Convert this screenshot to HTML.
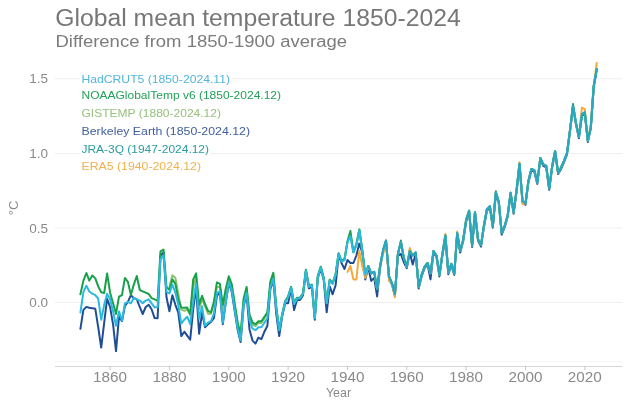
<!DOCTYPE html>
<html><head><meta charset="utf-8"><style>
html,body{margin:0;padding:0;background:#fff;width:627px;height:412px;overflow:hidden}
svg{display:block;font-family:"Liberation Sans",sans-serif;will-change:transform}
.g{stroke:#efefef;stroke-width:1}
.tk{stroke:#c8c8c8;stroke-width:1}
.yl{font-size:13.5px;fill:#8a8a8a;text-anchor:end}
.xl{font-size:14px;fill:#8a8a8a;text-anchor:middle}
.lg{font-size:11.4px;stroke:#fff;stroke-width:5px;stroke-linejoin:round;paint-order:stroke}
.dl path{fill:none;stroke-width:2;stroke-linejoin:round;stroke-linecap:round}
</style></head><body>
<svg width="627" height="412" viewBox="0 0 627 412">
<text x="55.2" y="26.3" textLength="405.5" lengthAdjust="spacingAndGlyphs" style="font-size:23px;fill:#777777">Global mean temperature 1850-2024</text>
<text x="55.5" y="47.3" textLength="291.5" lengthAdjust="spacingAndGlyphs" style="font-size:15.8px;fill:#7c7c7c">Difference from 1850-1900 average</text>
<line x1="55" x2="622" y1="78.8" y2="78.8" class="g"/><line x1="55" x2="622" y1="153.5" y2="153.5" class="g"/><line x1="55" x2="622" y1="228.0" y2="228.0" class="g"/><line x1="55" x2="622" y1="302.5" y2="302.5" class="g"/>
<line x1="55" x2="622" y1="361.5" y2="361.5" style="stroke:#f5f5f5;stroke-width:1"/>
<line x1="55" x2="622.5" y1="366.5" y2="366.5" style="stroke:#d6d6d6;stroke-width:1"/>
<line x1="110.1" x2="110.1" y1="366" y2="370" class="tk"/><text x="110.1" y="382.3" class="xl" textLength="34" lengthAdjust="spacingAndGlyphs">1860</text><line x1="169.4" x2="169.4" y1="366" y2="370" class="tk"/><text x="169.4" y="382.3" class="xl" textLength="34" lengthAdjust="spacingAndGlyphs">1880</text><line x1="228.8" x2="228.8" y1="366" y2="370" class="tk"/><text x="228.8" y="382.3" class="xl" textLength="34" lengthAdjust="spacingAndGlyphs">1900</text><line x1="288.1" x2="288.1" y1="366" y2="370" class="tk"/><text x="288.1" y="382.3" class="xl" textLength="34" lengthAdjust="spacingAndGlyphs">1920</text><line x1="347.5" x2="347.5" y1="366" y2="370" class="tk"/><text x="347.5" y="382.3" class="xl" textLength="34" lengthAdjust="spacingAndGlyphs">1940</text><line x1="406.8" x2="406.8" y1="366" y2="370" class="tk"/><text x="406.8" y="382.3" class="xl" textLength="34" lengthAdjust="spacingAndGlyphs">1960</text><line x1="466.1" x2="466.1" y1="366" y2="370" class="tk"/><text x="466.1" y="382.3" class="xl" textLength="34" lengthAdjust="spacingAndGlyphs">1980</text><line x1="525.5" x2="525.5" y1="366" y2="370" class="tk"/><text x="525.5" y="382.3" class="xl" textLength="34" lengthAdjust="spacingAndGlyphs">2000</text><line x1="584.8" x2="584.8" y1="366" y2="370" class="tk"/><text x="584.8" y="382.3" class="xl" textLength="34" lengthAdjust="spacingAndGlyphs">2020</text>
<text x="48" y="83.4" class="yl">1.5</text><text x="48" y="158.1" class="yl">1.0</text><text x="48" y="232.8" class="yl">0.5</text><text x="48" y="307.4" class="yl">0.0</text>
<text transform="translate(18.3,208) rotate(-90)" style="font-size:13px;fill:#8a8a8a;text-anchor:middle">°C</text>
<text x="338.5" y="396.8" textLength="25" lengthAdjust="spacingAndGlyphs" style="font-size:13.5px;fill:#8a8a8a;text-anchor:middle">Year</text>
<text x="81.5" y="82.5" fill="#52b6dc" class="lg" textLength="148.5" lengthAdjust="spacingAndGlyphs">HadCRUT5 (1850-2024.11)</text><text x="81.5" y="99.3" fill="#24a058" class="lg" textLength="199.5" lengthAdjust="spacingAndGlyphs">NOAAGlobalTemp v6 (1850-2024.12)</text><text x="81.5" y="117.2" fill="#96c07e" class="lg" textLength="139.5" lengthAdjust="spacingAndGlyphs">GISTEMP (1880-2024.12)</text><text x="81.5" y="134.9" fill="#3f5f9f" class="lg" textLength="168.5" lengthAdjust="spacingAndGlyphs">Berkeley Earth (1850-2024.12)</text><text x="81.5" y="152.5" fill="#2b9c9e" class="lg" textLength="127.5" lengthAdjust="spacingAndGlyphs">JRA-3Q (1947-2024.12)</text><text x="81.5" y="170.1" fill="#f1b14c" class="lg" textLength="119.5" lengthAdjust="spacingAndGlyphs">ERA5 (1940-2024.12)</text>
<g class="dl">
<path d="M80.4,328.8 L83.4,309.9 L86.4,306.9 L89.3,307.8 L92.3,308.2 L95.3,308.8 L98.2,327.2 L101.2,347.6 L104.2,322.7 L107.1,298.8 L110.1,307.0 L113.1,324.6 L116.0,351.1 L119.0,316.7 L122.0,321.2 L124.9,306.0 L127.9,301.9 L130.9,295.1 L133.8,298.1 L136.8,299.3 L139.8,307.0 L142.7,314.0 L145.7,307.0 L148.7,304.8 L151.6,309.3 L154.6,318.1 L157.6,318.2 L160.5,255.5 L163.5,252.5 L166.5,297.3 L169.4,311.2 L172.4,295.2 L175.4,304.8 L178.3,312.7 L181.3,336.1 L184.3,331.7 L187.2,335.7 L190.2,339.6 L193.2,309.3 L196.1,286.9 L199.1,333.8 L202.1,312.7 L205.0,327.2 L208.0,324.2 L211.0,322.0 L213.9,318.2 L216.9,295.8 L219.9,292.2 L222.8,324.2 L225.8,301.8 L228.8,283.7 L231.7,291.5 L234.7,311.1 L237.7,330.2 L240.6,342.1 L243.6,306.3 L246.6,294.3 L249.5,329.4 L252.5,340.6 L255.5,343.6 L258.4,337.6 L261.4,339.1 L264.4,331.7 L267.4,325.7 L270.3,289.3 L273.3,280.2 L276.3,314.3 L279.2,336.1 L282.2,316.4 L285.2,303.3 L288.1,303.3 L291.1,289.1 L294.1,310.0 L297.0,300.0 L300.0,300.0 L303.0,295.5 L305.9,271.9 L308.9,288.4 L311.9,286.9 L314.8,319.7 L317.8,277.9 L320.8,269.0 L323.7,279.9 L326.7,312.3 L329.7,286.4 L332.6,294.3 L335.6,285.4 L338.6,255.5 L341.5,263.0 L344.5,269.0 L347.5,260.0 L350.4,263.0 L353.4,263.0 L356.4,255.5 L359.3,243.6 L362.3,252.5 L365.3,279.4 L368.2,267.5 L371.2,280.9 L374.2,277.9 L377.1,296.4 L380.1,267.5 L383.1,251.6 L386.0,242.1 L389.0,277.9 L392.0,284.8 L394.9,295.8 L397.9,255.5 L400.9,254.0 L403.8,262.2 L406.8,268.1 L409.8,252.5 L412.7,264.5 L415.7,254.0 L418.7,288.4 L421.6,276.4 L424.6,268.1 L427.6,264.5 L430.5,279.4 L433.5,252.5 L436.5,257.0 L439.4,276.4 L442.4,255.5 L445.4,238.3 L448.3,274.2 L451.3,265.4 L454.3,274.9 L457.2,234.6 L460.2,252.5 L463.2,241.2 L466.1,221.8 L469.1,212.2 L472.1,247.0 L475.0,213.7 L478.0,240.6 L481.0,246.6 L483.9,227.2 L486.9,210.7 L489.9,207.7 L492.8,227.7 L495.8,194.3 L498.8,203.3 L501.7,234.6 L504.7,227.2 L507.7,216.7 L510.6,194.3 L513.6,213.7 L516.6,191.3 L519.5,165.2 L522.5,202.5 L525.5,204.8 L528.4,182.4 L531.4,170.4 L534.4,171.9 L537.3,183.9 L540.3,159.5 L543.3,165.9 L546.2,167.4 L549.2,189.8 L552.2,167.4 L555.1,152.5 L558.1,174.1 L561.1,168.9 L564.1,162.2 L567.0,154.7 L570.0,131.6 L573.0,107.3 L575.9,124.1 L578.9,138.2 L581.9,115.9 L584.8,113.7 L587.8,142.0 L590.8,128.6 L593.7,87.6 L596.7,70.4" stroke="#1f4e96" />
<path d="M169.4,286.9 L172.4,275.2 L175.4,277.9 L178.3,294.3 L181.3,309.3 L184.3,310.8 L187.2,309.3 L190.2,315.2 L193.2,286.9 L196.1,276.4 L199.1,309.3 L202.1,298.8 L205.0,306.3 L208.0,313.7 L211.0,313.7 L213.9,303.3 L216.9,286.9 L219.9,286.9 L222.8,309.3 L225.8,292.8 L228.8,278.1 L231.7,285.8 L234.7,305.4 L237.7,324.5 L240.6,336.4 L243.6,300.6 L246.6,288.7 L249.5,316.3 L252.5,324.5 L255.5,326.0 L258.4,323.0 L261.4,323.0 L264.4,318.5 L267.4,314.0 L270.3,283.6 L273.3,274.5 L276.3,307.8 L279.2,329.6 L282.2,314.4 L285.2,301.3 L288.1,296.8 L291.1,287.1 L294.1,303.5 L297.0,298.0 L300.0,298.0 L303.0,293.5 L305.9,269.9 L308.9,286.3 L311.9,284.9 L314.8,317.7 L317.8,275.9 L320.8,266.9 L323.7,277.8 L326.7,302.8 L329.7,279.9 L332.6,283.4 L335.6,274.4 L338.6,253.5 L341.5,261.0 L344.5,259.5 L347.5,241.6 L350.4,235.6 L353.4,252.0 L356.4,244.5 L359.3,229.6 L362.3,250.5 L365.3,274.9 L368.2,266.0 L371.2,273.4 L374.2,271.9 L377.1,289.0 L380.1,266.0 L383.1,250.1 L386.0,240.6 L389.0,276.4 L392.0,283.3 L394.9,294.3 L397.9,254.0 L400.9,242.1 L403.8,257.8 L406.8,266.6 L409.8,251.0 L412.7,255.5 L415.7,252.5 L418.7,286.9 L421.6,274.9 L424.6,266.6 L427.6,263.0 L430.5,273.4 L433.5,251.0 L436.5,255.5 L439.4,274.9 L442.4,254.0 L445.4,235.4 L448.3,272.7 L451.3,263.9 L454.3,273.4 L457.2,233.1 L460.2,251.0 L463.2,239.7 L466.1,220.3 L469.1,210.7 L472.1,245.5 L475.0,212.2 L478.0,239.1 L481.0,245.1 L483.9,225.7 L486.9,209.2 L489.9,206.2 L492.8,226.3 L495.8,192.8 L498.8,201.8 L501.7,233.1 L504.7,225.7 L507.7,215.2 L510.6,192.8 L513.6,212.2 L516.6,189.8 L519.5,163.7 L522.5,201.0 L525.5,203.3 L528.4,180.9 L531.4,168.9 L534.4,170.4 L537.3,182.4 L540.3,158.0 L543.3,164.4 L546.2,165.9 L549.2,188.3 L552.2,165.9 L555.1,151.0 L558.1,172.7 L561.1,167.4 L564.1,160.7 L567.0,153.2 L570.0,130.1 L573.0,105.8 L575.9,122.6 L578.9,136.7 L581.9,114.4 L584.8,112.2 L587.8,140.6 L590.8,127.1 L593.7,86.1 L596.7,68.9" stroke="#8cc06a" />
<path d="M80.4,294.3 L83.4,280.6 L86.4,273.0 L89.3,280.6 L92.3,275.5 L95.3,278.4 L98.2,286.4 L101.2,292.2 L104.2,293.0 L107.1,273.4 L110.1,292.7 L113.1,303.3 L116.0,314.0 L119.0,296.7 L122.0,295.1 L124.9,277.9 L127.9,281.9 L130.9,295.1 L133.8,284.6 L136.8,276.0 L139.8,290.0 L142.7,291.3 L145.7,292.7 L148.7,294.0 L151.6,298.1 L154.6,299.4 L157.6,300.8 L160.5,251.3 L163.5,249.5 L166.5,286.9 L169.4,289.9 L172.4,279.4 L175.4,283.9 L178.3,299.6 L181.3,307.6 L184.3,307.8 L187.2,307.6 L190.2,313.7 L193.2,279.4 L196.1,273.4 L199.1,304.8 L202.1,295.8 L205.0,304.0 L208.0,310.8 L211.0,312.3 L213.9,301.8 L216.9,282.4 L219.9,283.9 L222.8,304.8 L225.8,288.4 L228.8,276.3 L231.7,284.0 L234.7,303.6 L237.7,322.7 L240.6,334.6 L243.6,298.8 L246.6,286.9 L249.5,314.5 L252.5,322.7 L255.5,324.2 L258.4,321.2 L261.4,321.2 L264.4,316.7 L267.4,312.3 L270.3,281.8 L273.3,272.7 L276.3,307.6 L279.2,329.4 L282.2,314.2 L285.2,301.1 L288.1,296.6 L291.1,286.9 L294.1,303.3 L297.0,297.8 L300.0,297.8 L303.0,293.3 L305.9,269.7 L308.9,286.1 L311.9,284.6 L314.8,317.5 L317.8,275.7 L320.8,266.7 L323.7,277.6 L326.7,302.5 L329.7,279.7 L332.6,283.1 L335.6,274.2 L338.6,253.3 L341.5,260.7 L344.5,259.2 L347.5,241.3 L350.4,230.9 L353.4,251.8 L356.4,244.3 L359.3,229.4 L362.3,250.3 L365.3,274.9 L368.2,266.0 L371.2,273.4 L374.2,271.9 L377.1,289.0 L380.1,266.0 L383.1,250.1 L386.0,240.6 L389.0,276.4 L392.0,283.3 L394.9,294.3 L397.9,254.0 L400.9,240.6 L403.8,257.8 L406.8,266.6 L409.8,251.0 L412.7,255.5 L415.7,252.5 L418.7,286.9 L421.6,274.9 L424.6,266.6 L427.6,263.0 L430.5,273.4 L433.5,251.0 L436.5,255.5 L439.4,274.9 L442.4,254.0 L445.4,235.4 L448.3,272.7 L451.3,263.9 L454.3,273.4 L457.2,233.1 L460.2,251.0 L463.2,239.7 L466.1,220.3 L469.1,210.7 L472.1,245.5 L475.0,212.2 L478.0,239.1 L481.0,245.1 L483.9,225.7 L486.9,209.2 L489.9,206.2 L492.8,226.3 L495.8,191.3 L498.8,201.8 L501.7,233.1 L504.7,225.7 L507.7,215.2 L510.6,192.8 L513.6,212.2 L516.6,189.8 L519.5,163.7 L522.5,201.0 L525.5,203.3 L528.4,180.9 L531.4,168.9 L534.4,170.4 L537.3,182.4 L540.3,158.0 L543.3,164.4 L546.2,165.9 L549.2,188.3 L552.2,165.9 L555.1,151.0 L558.1,172.7 L561.1,167.4 L564.1,160.7 L567.0,153.2 L570.0,130.1 L573.0,104.0 L575.9,122.6 L578.9,136.7 L581.9,114.4 L584.8,112.2 L587.8,140.6 L590.8,127.1 L593.7,86.1 L596.7,68.9" stroke="#18a04a" />
<path d="M347.5,271.9 L350.4,266.0 L353.4,279.4 L356.4,279.4 L359.3,251.0 L362.3,266.0 L365.3,277.9 L368.2,266.0 L371.2,273.4 L374.2,271.9 L377.1,289.0 L380.1,266.0 L383.1,254.6 L386.0,240.6 L389.0,280.9 L392.0,283.3 L394.9,297.3 L397.9,254.0 L400.9,242.1 L403.8,257.8 L406.8,266.6 L409.8,248.1 L412.7,255.5 L415.7,252.5 L418.7,286.9 L421.6,274.9 L424.6,266.6 L427.6,263.0 L430.5,273.4 L433.5,251.0 L436.5,255.5 L439.4,274.9 L442.4,254.0 L445.4,233.9 L448.3,272.7 L451.3,263.9 L454.3,273.4 L457.2,231.6 L460.2,251.0 L463.2,239.7 L466.1,218.8 L469.1,210.7 L472.1,245.5 L475.0,212.2 L478.0,239.1 L481.0,245.1 L483.9,225.7 L486.9,209.2 L489.9,206.2 L492.8,226.3 L495.8,192.8 L498.8,201.8 L501.7,233.1 L504.7,225.7 L507.7,215.2 L510.6,192.8 L513.6,212.2 L516.6,189.8 L519.5,162.2 L522.5,204.0 L525.5,203.3 L528.4,180.9 L531.4,168.9 L534.4,170.4 L537.3,182.4 L540.3,158.0 L543.3,164.4 L546.2,165.9 L549.2,188.3 L552.2,165.9 L555.1,151.0 L558.1,172.7 L561.1,167.4 L564.1,160.7 L567.0,153.2 L570.0,130.1 L573.0,105.8 L575.9,122.6 L578.9,136.7 L581.9,107.7 L584.8,109.2 L587.8,140.6 L590.8,124.1 L593.7,86.1 L596.7,62.9" stroke="#f4a93a" />
<path d="M80.4,312.5 L83.4,292.2 L86.4,285.7 L89.3,291.5 L92.3,293.7 L95.3,295.1 L98.2,298.7 L101.2,319.7 L104.2,304.8 L107.1,293.7 L110.1,299.3 L113.1,311.4 L116.0,325.7 L119.0,311.4 L122.0,320.8 L124.9,303.3 L127.9,301.8 L130.9,303.3 L133.8,298.1 L136.8,299.3 L139.8,300.6 L142.7,303.3 L145.7,300.6 L148.7,299.3 L151.6,303.3 L154.6,307.3 L157.6,307.3 L160.5,259.2 L163.5,255.5 L166.5,291.9 L169.4,293.4 L172.4,284.6 L175.4,292.8 L178.3,304.8 L181.3,323.6 L184.3,319.7 L187.2,316.7 L190.2,324.2 L193.2,301.8 L196.1,283.9 L199.1,318.5 L202.1,306.3 L205.0,325.7 L208.0,322.7 L211.0,321.2 L213.9,313.7 L216.9,292.8 L219.9,291.3 L222.8,322.7 L225.8,302.5 L228.8,282.2 L231.7,290.0 L234.7,309.6 L237.7,328.7 L240.6,340.6 L243.6,304.8 L246.6,292.8 L249.5,320.5 L252.5,328.7 L255.5,330.2 L258.4,327.2 L261.4,327.2 L264.4,322.7 L267.4,318.2 L270.3,287.8 L273.3,278.7 L276.3,308.4 L279.2,330.2 L282.2,314.9 L285.2,301.8 L288.1,297.3 L291.1,287.6 L294.1,304.0 L297.0,298.5 L300.0,298.5 L303.0,294.0 L305.9,270.4 L308.9,286.9 L311.9,285.4 L314.8,318.2 L317.8,276.4 L320.8,267.5 L323.7,278.4 L326.7,303.3 L329.7,280.5 L332.6,283.9 L335.6,274.9 L338.6,254.0 L341.5,261.5 L344.5,260.0 L347.5,242.1 L350.4,236.1 L353.4,252.5 L356.4,245.1 L359.3,230.1 L362.3,251.0 L365.3,274.9 L368.2,266.0 L371.2,273.4 L374.2,271.9 L377.1,289.0 L380.1,266.0 L383.1,250.1 L386.0,240.6 L389.0,276.4 L392.0,283.3 L394.9,294.3 L397.9,254.0 L400.9,242.1 L403.8,257.8 L406.8,266.6 L409.8,251.0 L412.7,255.5 L415.7,252.5 L418.7,286.9 L421.6,274.9 L424.6,266.6 L427.6,263.0 L430.5,273.4 L433.5,251.0 L436.5,255.5 L439.4,274.9 L442.4,254.0 L445.4,235.4 L448.3,272.7 L451.3,263.9 L454.3,273.4 L457.2,233.1 L460.2,251.0 L463.2,239.7 L466.1,220.3 L469.1,210.7 L472.1,245.5 L475.0,212.2 L478.0,239.1 L481.0,245.1 L483.9,225.7 L486.9,209.2 L489.9,206.2 L492.8,226.3 L495.8,192.8 L498.8,201.8 L501.7,233.1 L504.7,225.7 L507.7,215.2 L510.6,192.8 L513.6,212.2 L516.6,189.8 L519.5,163.7 L522.5,201.0 L525.5,203.3 L528.4,180.9 L531.4,168.9 L534.4,170.4 L537.3,182.4 L540.3,158.0 L543.3,164.4 L546.2,165.9 L549.2,188.3 L552.2,165.9 L555.1,151.0 L558.1,172.7 L561.1,167.4 L564.1,160.7 L567.0,153.2 L570.0,130.1 L573.0,105.8 L575.9,122.6 L578.9,136.7 L581.9,114.4 L584.8,112.2 L587.8,140.6 L590.8,127.1 L593.7,86.1 L596.7,68.9" stroke="#2cb9e0" />
<path d="M368.2,266.0 L371.2,273.4 L374.2,271.9 L377.1,289.0 L380.1,266.0 L383.1,250.1 L386.0,240.6 L389.0,276.4 L392.0,283.3 L394.9,294.3 L397.9,254.0 L400.9,242.1 L403.8,257.8 L406.8,266.6 L409.8,251.0 L412.7,255.5 L415.7,252.5 L418.7,286.9 L421.6,274.9 L424.6,266.6 L427.6,263.0 L430.5,273.4 L433.5,251.0 L436.5,255.5 L439.4,274.9 L442.4,254.0 L445.4,235.4 L448.3,272.7 L451.3,263.9 L454.3,273.4 L457.2,233.1 L460.2,251.0 L463.2,239.7 L466.1,220.3 L469.1,210.7 L472.1,245.5 L475.0,212.2 L478.0,239.1 L481.0,245.1 L483.9,225.7 L486.9,209.2 L489.9,206.2 L492.8,226.3 L495.8,192.8 L498.8,201.8 L501.7,233.1 L504.7,225.7 L507.7,215.2 L510.6,192.8 L513.6,212.2 L516.6,189.8 L519.5,163.7 L522.5,201.0 L525.5,203.3 L528.4,180.9 L531.4,168.9 L534.4,170.4 L537.3,182.4 L540.3,158.0 L543.3,164.4 L546.2,165.9 L549.2,188.3 L552.2,165.9 L555.1,151.0 L558.1,172.7 L561.1,167.4 L564.1,160.7 L567.0,153.2 L570.0,130.1 L573.0,105.8 L575.9,122.6 L578.9,136.7 L581.9,114.4 L584.8,112.2 L587.8,140.6 L590.8,127.1 L593.7,86.1 L596.7,68.9" stroke="#28a7bf" />
</g>
</svg>
</body></html>
